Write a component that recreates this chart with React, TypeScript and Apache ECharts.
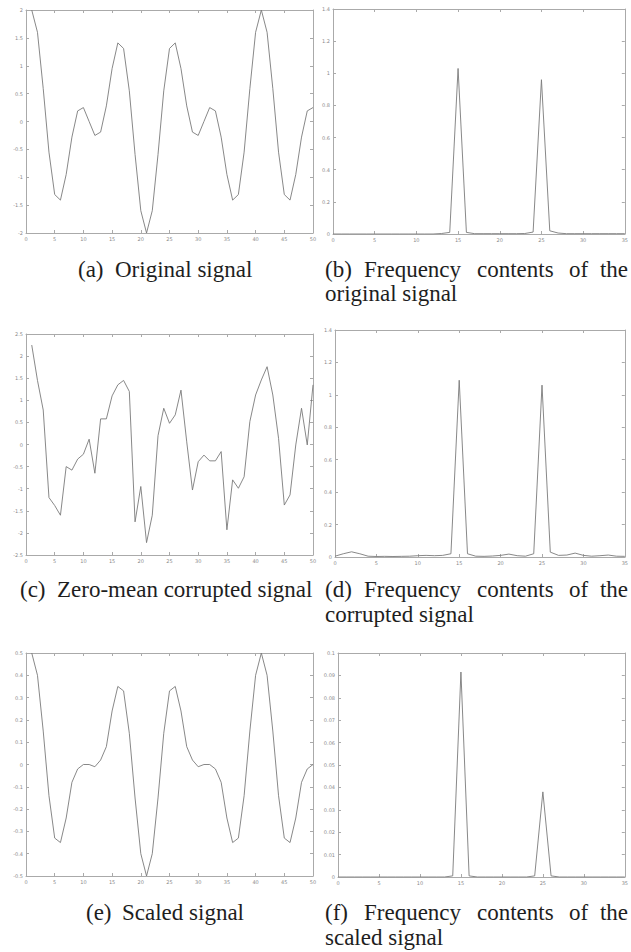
import React, { useEffect, useRef } from "react";
import * as echarts from "echarts";

// sample index (MATLAB plot(y) uses 1..N)
const SIGNAL_X = [1,2,3,4,5,6,7,8,9,10,11,12,13,14,15,16,17,18,19,20,21,22,23,24,25,26,27,28,29,30,31,32,33,34,35,36,37,38,39,40,41,42,43,44,45,46,47,48,49,50];
// frequency bins shown
const FREQ_X = [0,1,2,3,4,5,6,7,8,9,10,11,12,13,14,15,16,17,18,19,20,21,22,23,24,25,26,27,28,29,30,31,32,33,34,35];

// (a) original signal
const originalSignal = [2.00,1.60,0.59,-0.55,-1.31,-1.41,-0.95,-0.28,0.19,0.25,0.00,-0.25,-0.19,0.28,0.95,1.41,1.31,0.55,-0.59,-1.60,-2.00,-1.60,-0.59,0.55,1.31,1.41,0.95,0.28,-0.19,-0.25,0.00,0.25,0.19,-0.28,-0.95,-1.41,-1.31,-0.55,0.59,1.60,2.00,1.60,0.59,-0.55,-1.31,-1.41,-0.95,-0.28,0.19,0.25];
// (b) spectrum of original
const originalSpectrum = [0,0,0,0,0,0,0,0,0,0,0,0,0,0.003,0.01,1.03,0.01,0.002,0.002,0.002,0.002,0.002,0.002,0.003,0.012,0.96,0.02,0.006,0.002,0.002,0.002,0.002,0.002,0.002,0.002,0.002];
// (c) zero-mean corrupted signal
const corruptedSignal = [2.25,1.45,0.78,-1.20,-1.38,-1.60,-0.50,-0.58,-0.33,-0.22,0.12,-0.65,0.58,0.58,1.10,1.35,1.45,1.20,-1.75,-0.95,-2.22,-1.60,0.20,0.82,0.48,0.67,1.23,0.06,-1.03,-0.39,-0.24,-0.37,-0.37,-0.16,-1.93,-0.80,-0.99,-0.73,0.52,1.12,1.46,1.76,1.12,0.14,-1.37,-1.14,-0.01,0.82,-0.01,1.35];
// (d) spectrum of corrupted
const corruptedSpectrum = [0.005,0.02,0.032,0.02,0.005,0.003,0.004,0.003,0.004,0.005,0.008,0.01,0.008,0.01,0.02,1.09,0.02,0.005,0.004,0.006,0.01,0.018,0.008,0.005,0.02,1.06,0.03,0.01,0.012,0.024,0.01,0.005,0.008,0.012,0.005,0.004];
// (e) scaled signal
const scaledSignal = [0.50,0.40,0.15,-0.14,-0.33,-0.35,-0.24,-0.08,-0.02,0.00,0.00,-0.01,0.02,0.08,0.24,0.35,0.33,0.14,-0.15,-0.40,-0.50,-0.40,-0.15,0.14,0.33,0.35,0.24,0.08,0.02,-0.01,0.00,0.00,-0.02,-0.08,-0.24,-0.35,-0.33,-0.14,0.15,0.40,0.50,0.40,0.15,-0.14,-0.33,-0.35,-0.24,-0.08,-0.02,0.00];
// (f) spectrum of scaled
const scaledSpectrum = [0,0,0,0,0,0,0,0,0,0,0,0,0,0,0.0005,0.0915,0.0005,0,0,0,0,0,0,0,0.0005,0.038,0.0005,0,0,0,0,0,0,0,0,0];

const AXIS_COLOR = "#aaaaaa";
const LINE_COLOR = "#7a7a7a";
const LABEL_COLOR = "#8a8a8a";
const CAPTION_FONT = "Liberation Serif";

type Panel = {
  rect: { left: number; top: number; width: number; height: number };
  xMax: number;
  yMin: number;
  yMax: number;
  yInterval: number;
  xs: number[];
  ys: number[];
};

const panels: Panel[] = [
  { rect: { left: 26, top: 10, width: 287, height: 223 }, xMax: 50, yMin: -2, yMax: 2, yInterval: 0.5, xs: SIGNAL_X, ys: originalSignal },
  { rect: { left: 333, top: 9, width: 293, height: 225 }, xMax: 35, yMin: 0, yMax: 1.4, yInterval: 0.2, xs: FREQ_X, ys: originalSpectrum },
  { rect: { left: 26, top: 334, width: 287, height: 221 }, xMax: 50, yMin: -2.5, yMax: 2.5, yInterval: 0.5, xs: SIGNAL_X, ys: corruptedSignal },
  { rect: { left: 335, top: 330, width: 290, height: 227 }, xMax: 35, yMin: 0, yMax: 1.4, yInterval: 0.2, xs: FREQ_X, ys: corruptedSpectrum },
  { rect: { left: 26, top: 653, width: 287, height: 223 }, xMax: 50, yMin: -0.5, yMax: 0.5, yInterval: 0.1, xs: SIGNAL_X, ys: scaledSignal },
  { rect: { left: 338, top: 653, width: 287, height: 224 }, xMax: 35, yMin: 0, yMax: 0.1, yInterval: 0.01, xs: FREQ_X, ys: scaledSpectrum },
];

function fmt(v: number): string {
  const r = Math.round(v * 1000) / 1000;
  return String(r);
}

function buildOption() {
  const grid: any[] = [];
  const xAxis: any[] = [];
  const yAxis: any[] = [];
  const series: any[] = [];
  panels.forEach((p, i) => {
    grid.push({ ...p.rect, containLabel: false });
    const baseX = {
      type: "value",
      gridIndex: i,
      min: 0,
      max: p.xMax,
      interval: 5,
      axisLine: { show: true, onZero: false, lineStyle: { color: AXIS_COLOR, width: 1 } },
      axisTick: { show: true, inside: true, length: 3, lineStyle: { color: AXIS_COLOR, width: 1 } },
      splitLine: { show: false },
    };
    xAxis.push({ ...baseX, position: "bottom", axisLabel: { show: true, fontSize: 5, color: LABEL_COLOR, margin: 3, fontFamily: "DejaVu Sans" } });
    xAxis.push({ ...baseX, position: "top", axisLabel: { show: false } });
    const baseY = {
      type: "value",
      gridIndex: i,
      min: p.yMin,
      max: p.yMax,
      interval: p.yInterval,
      axisLine: { show: true, onZero: false, lineStyle: { color: AXIS_COLOR, width: 1 } },
      axisTick: { show: true, inside: true, length: 3, lineStyle: { color: AXIS_COLOR, width: 1 } },
      splitLine: { show: false },
    };
    yAxis.push({ ...baseY, position: "left", axisLabel: { show: true, fontSize: 5, color: LABEL_COLOR, margin: 3, fontFamily: "DejaVu Sans", formatter: (v: number) => fmt(v) } });
    yAxis.push({ ...baseY, position: "right", axisLabel: { show: false } });
    series.push({
      type: "line",
      xAxisIndex: 2 * i,
      yAxisIndex: 2 * i,
      data: p.xs.map((x, k) => [x, p.ys[k]]),
      showSymbol: false,
      symbol: "none",
      lineStyle: { color: LINE_COLOR, width: 0.9 },
      silent: true,
      clip: true,
    });
  });

  const txt = (text: string, x: number, y: number, align = "left") => ({
    type: "text",
    x,
    y,
    silent: true,
    style: { text, fill: "#1e1e1e", fontSize: 23, fontFamily: CAPTION_FONT, align, verticalAlign: "middle" },
  });

  const graphic: any[] = [
    txt("(a)", 78, 269),
    txt("Original signal", 115, 269),
    txt("(c)", 20, 589),
    txt("Zero-mean corrupted signal", 57, 589),
    txt("(e)", 86, 912),
    txt("Scaled signal", 122, 912),
  ];
  const freqCaption = (letter: string, y1: number, y2: number, second: string) => {
    graphic.push(txt(letter, 325, y1));
    graphic.push(txt("Frequency", 364, y1));
    graphic.push(txt("contents", 477, y1));
    graphic.push(txt("of", 569, y1));
    graphic.push(txt("the", 628, y1, "right"));
    graphic.push(txt(second, 325, y2));
  };
  freqCaption("(b)", 269, 293, "original signal");
  freqCaption("(d)", 589, 614, "corrupted signal");
  freqCaption("(f)", 912, 937, "scaled signal");

  return { animation: false, backgroundColor: "#ffffff", grid, xAxis, yAxis, series, graphic };
}

export default function App() {
  const ref = useRef<HTMLDivElement>(null);
  useEffect(() => {
    if (!ref.current) return;
    const chart = echarts.init(ref.current, undefined, { renderer: "svg" });
    chart.setOption(buildOption() as any);
    return () => chart.dispose();
  }, []);
  return (
    <div
      ref={ref}
      style={{ position: "absolute", left: 0, top: 0, width: 631, height: 952, background: "#fff" }}
    />
  );
}
